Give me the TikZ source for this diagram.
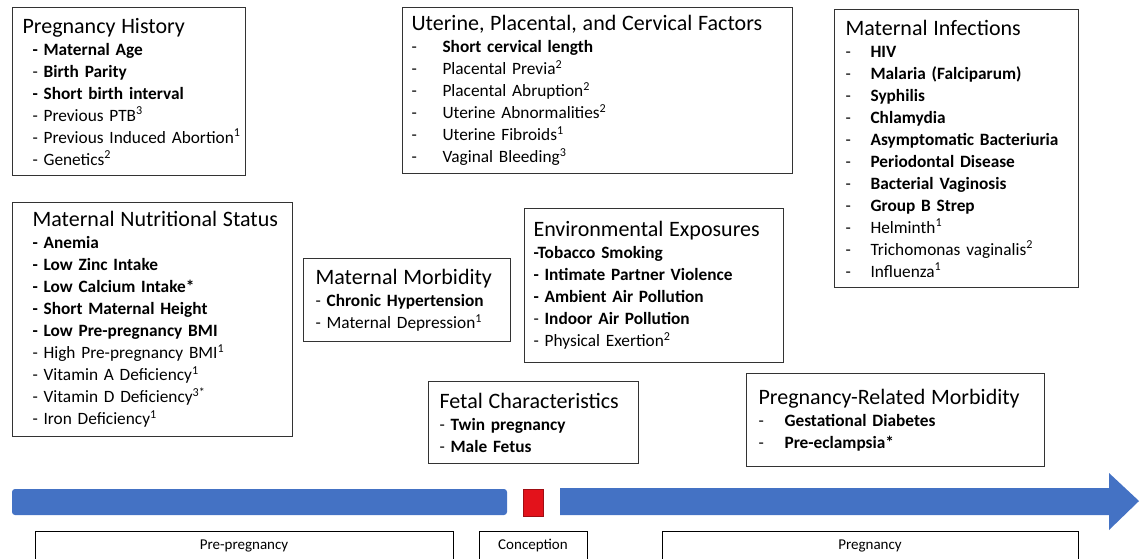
\documentclass[tikz,border=0pt]{standalone}
\usepackage{fontspec}
\setmainfont{Carlito}
\definecolor{timeblue}{HTML}{4472C4}
\definecolor{concred}{HTML}{E3121B}
\newcommand{\boxhead}[1]{{\fontsize{22pt}{22pt}\selectfont\mbox{#1}}\\}
\newcommand{\tabdash}{\makebox[31pt][l]{-}}
\newcommand{\sups}[1]{\textsuperscript{#1}}

\begin{document}
\begin{tikzpicture}[x=1pt,y=-1pt,
        factorbox/.style={draw=black!80, line width=1.1pt, anchor=north west, align=left,
                          inner ysep=0pt, font=\fontsize{17.3pt}{22pt}\selectfont},
        phasebox/.style={draw=black, line width=1pt, minimum height=30pt,
                         font=\fontsize{15pt}{16pt}\selectfont},
        timeline/.style={fill=timeblue}]

            % \draw [help lines] (0,0) grid (1143,558);
            \useasboundingbox (0,0) rectangle (1143,558);
            \clip (0,0) rectangle (1143,558);

            \node (history) [factorbox, inner xsep=10pt, minimum width=233pt, minimum height=168pt, text width=213pt] at (12,7)
            {
            \boxhead{Pregnancy History}
            \hspace*{10pt}\textbf{- Maternal Age}\\
            \hspace*{10pt}- \textbf{Birth Parity}\\
            \hspace*{10pt}\textbf{- Short birth interval}\\
            \hspace*{10pt}- Previous PTB\sups{3}\\
            \hspace*{10pt}\mbox{- Previous Induced Abortion\sups{1}}\\
            \hspace*{10pt}- Genetics\sups{2}
            };

            \node (uterine) [factorbox, inner xsep=9pt, minimum width=390pt, minimum height=166pt, text width=372pt] at (402,7)
            {
            \boxhead{Uterine, Placental, and Cervical Factors}
            \tabdash\textbf{Short cervical length}\\
            \tabdash Placental Previa\sups{2}\\
            \tabdash Placental Abruption\sups{2}\\
            \tabdash Uterine Abnormalities\sups{2}\\
            \tabdash Uterine Fibroids\sups{1}\\
            \tabdash Vaginal Bleeding\sups{3}
            };

            \node (infections) [factorbox, inner xsep=11pt, minimum width=244pt, minimum height=278pt, text width=222pt] at (834,9)
            {
            \boxhead{Maternal Infections}
            \makebox[25pt][l]{-}\textbf{HIV}\\
            \makebox[25pt][l]{-}\textbf{Malaria (Falciparum)}\\
            \makebox[25pt][l]{-}\textbf{Syphilis}\\
            \makebox[25pt][l]{-}\textbf{Chlamydia}\\
            \makebox[25pt][l]{-}\textbf{Asymptomatic Bacteriuria}\\
            \makebox[25pt][l]{-}\textbf{Periodontal Disease}\\
            \makebox[25pt][l]{-}\textbf{Bacterial Vaginosis}\\
            \makebox[25pt][l]{-}\textbf{Group B Strep}\\
            \makebox[25pt][l]{-}Helminth\sups{1}\\
            \makebox[25pt][l]{-}Trichomonas vaginalis\sups{2}\\
            \makebox[25pt][l]{-}Influenza\sups{1}
            };

            \node (nutrition) [factorbox, inner xsep=20pt, minimum width=280pt, minimum height=234pt, text width=240pt] at (12,202)
            {
            \boxhead{Maternal Nutritional Status}
            \textbf{- Anemia}\\
            \textbf{- Low Zinc Intake}\\
            \textbf{- Low Calcium Intake*}\\
            \textbf{- Short Maternal Height}\\
            \textbf{- Low Pre-pregnancy BMI}\\
            - High Pre-pregnancy BMI\sups{1}\\
            - Vitamin A Deficiency\sups{1}\\
            - Vitamin D Deficiency\sups{3*}\\
            - Iron Deficiency\sups{1}
            };

            \node (morbidity) [factorbox, inner xsep=12pt, minimum width=207pt, minimum height=83pt, text width=183pt] at (303,258)
            {
            \boxhead{Maternal Morbidity}
            - \textbf{Chronic Hypertension}\\
            - Maternal Depression\sups{1}
            };

            \node (environment) [factorbox, inner xsep=9pt, minimum width=259pt, minimum height=154pt, text width=241pt] at (524,208)
            {
            \boxhead{Environmental Exposures}
            \textbf{-Tobacco Smoking}\\
            \textbf{- Intimate Partner Violence}\\
            \textbf{- Ambient Air Pollution}\\
            - \textbf{Indoor Air Pollution}\\
            - Physical Exertion\sups{2}
            };

            \node (fetal) [factorbox, inner xsep=11pt, minimum width=210pt, minimum height=82pt, text width=188pt] at (428,381)
            {
            \boxhead{Fetal Characteristics}
            - \textbf{Twin pregnancy}\\
            - \textbf{Male Fetus}
            };

            \node (pregmorbidity) [factorbox, inner xsep=12pt, minimum width=298pt, minimum height=93pt, text width=274pt] at (746,373)
            {
            \boxhead{Pregnancy-Related Morbidity}
            \makebox[26pt][l]{-}\textbf{Gestational Diabetes}\\
            \makebox[26pt][l]{-}\textbf{Pre-eclampsia*}
            };

            % timeline
            \fill[timeline, rounded corners=3pt] (12,489) rectangle (507,515);
            \filldraw[fill=concred, draw=concred!70!black, line width=0.8pt] (523,489) rectangle (543,516);
            \fill[timeline] (560,488) -- (1109,488) -- (1109,473) -- (1139,501)
                            -- (1109,530) -- (1109,515) -- (560,515) -- cycle;

            \node (prepregnancy) [phasebox, minimum width=418pt] at (244,546) {Pre-pregnancy};
            \node (conception) [phasebox, minimum width=108pt] at (533,546) {Conception};
            \node (pregnancy) [phasebox, minimum width=416pt] at (870,546) {Pregnancy};

\end{tikzpicture}
\end{document}
